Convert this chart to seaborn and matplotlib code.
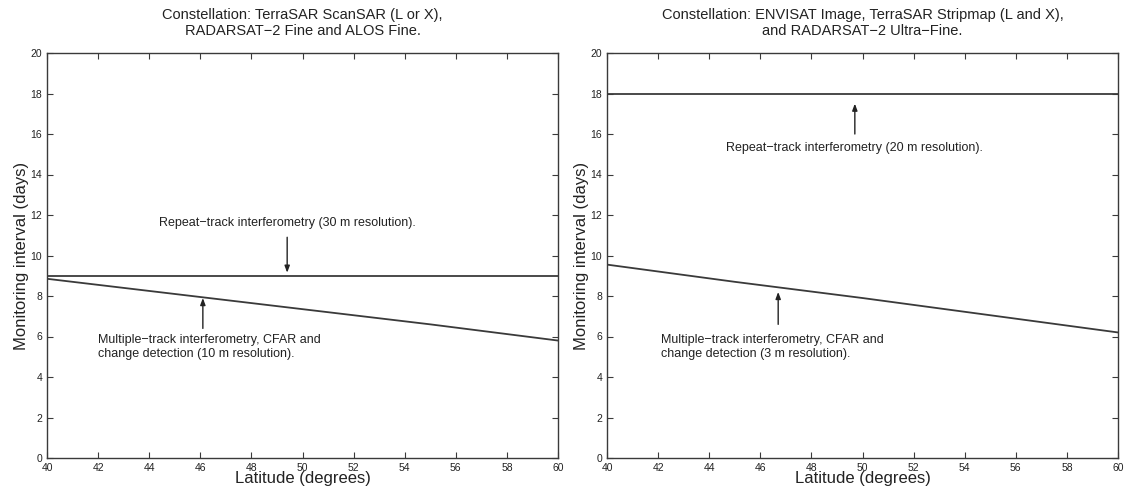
import matplotlib
matplotlib.use("Agg")
import matplotlib.pyplot as plt
import seaborn as sns
import pandas as pd

# ---- data ----
latitude = [40, 45, 50, 55, 60]
left_repeat = [9.0, 9.0, 9.0, 9.0, 9.0]
left_multi = [8.85, 8.1, 7.35, 6.6, 5.8]
right_repeat = [18.0, 18.0, 18.0, 18.0, 18.0]
right_multi = [9.55, 8.7, 7.9, 7.05, 6.2]

titles = ["Constellation: TerraSAR ScanSAR (L or X),\nRADARSAT\u22122 Fine and ALOS Fine.",
          "Constellation: ENVISAT Image, TerraSAR Stripmap (L and X),\nand RADARSAT\u22122 Ultra\u2212Fine."]
repeat_labels = ["Repeat\u2212track interferometry (30 m resolution).",
                 "Repeat\u2212track interferometry (20 m resolution)."]
multi_labels = ["Multiple\u2212track interferometry, CFAR and\nchange detection (10 m resolution).",
                "Multiple\u2212track interferometry, CFAR and\nchange detection (3 m resolution)."]
xticks = list(range(40, 61, 2))
yticks = list(range(0, 21, 2))

# annotation anchor points (data coords)
repeat_arrow = [(49.4, 10.9, 9.15), (49.7, 16.0, 17.5)]   # x, tail y, head y
repeat_text_y = [11.6, 15.3]
multi_arrow = [(46.1, 6.4, 7.9), (46.7, 6.6, 8.2)]
multi_text_xy = [(42.0, 5.5), (42.1, 5.5)]

sns.set_style("ticks")
plt.rcParams['font.family'] = ['Liberation Sans', 'DejaVu Sans']

fig = plt.figure(figsize=(11.27, 4.93), dpi=100)
lefts = [47 / 1127, 607 / 1127]
width = 511 / 1127
bottom = 1 - 458 / 493
height = (458 - 53) / 493

series = [(left_repeat, left_multi), (right_repeat, right_multi)]
col = "#3a3a3a"
for i in range(2):
    ax = fig.add_axes([lefts[i], bottom, width, height])
    rep, mul = series[i]
    df = pd.DataFrame({"lat": latitude * 2,
                       "days": rep + mul,
                       "s": ["repeat"] * len(latitude) + ["multi"] * len(latitude)})
    sns.lineplot(data=df, x="lat", y="days", units="s", estimator=None,
                 color=col, lw=1.3, ax=ax, legend=False)
    ax.set_xlim(40, 60)
    ax.set_ylim(0, 20)
    ax.set_xticks(xticks)
    ax.set_yticks(yticks)
    ax.tick_params(direction="in", length=4, width=0.8, labelsize=7.5,
                   top=True, right=True, colors=col, labelcolor="#222222")
    ax.tick_params(axis="x", pad=3.5)
    ax.tick_params(axis="y", pad=3.5)
    for sp in ax.spines.values():
        sp.set_color(col)
        sp.set_linewidth(1.0)
    ax.set_xlabel("Latitude (degrees)", fontsize=12, labelpad=-1, color="#222222")
    ax.set_ylabel("Monitoring interval (days)", fontsize=12, labelpad=1, color="#222222")
    ax.set_title(titles[i], fontsize=10.5, pad=13, color="#222222", linespacing=1.15)

    ax_x, t_y, h_y = repeat_arrow[i]
    ax.annotate("", xy=(ax_x, h_y), xytext=(ax_x, t_y),
                arrowprops=dict(arrowstyle="-|>,head_length=0.4,head_width=0.15",
                                color="#222222", lw=1.0, shrinkA=0, shrinkB=0))
    ax.text(ax_x, repeat_text_y[i], repeat_labels[i], ha="center", va="center",
            fontsize=9, color="#222222")

    mx, mt, mh = multi_arrow[i]
    ax.annotate("", xy=(mx, mh), xytext=(mx, mt),
                arrowprops=dict(arrowstyle="-|>,head_length=0.4,head_width=0.15",
                                color="#222222", lw=1.0, shrinkA=0, shrinkB=0))
    tx, ty = multi_text_xy[i]
    ax.text(tx, ty, multi_labels[i], ha="left", va="center", fontsize=9,
            color="#222222", linespacing=1.2)

fig.savefig("out.png", dpi=100)
